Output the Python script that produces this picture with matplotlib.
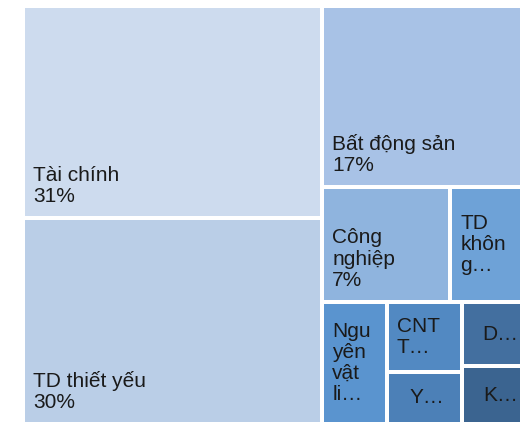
import matplotlib
matplotlib.use("Agg")
import matplotlib.pyplot as plt
from matplotlib.patches import Rectangle

plt.rcParams['font.family'] = ['Liberation Sans', 'DejaVu Sans']

# sector weights (%)
sectors = ["Tài chính", "TD thiết yếu", "Bất động sản", "Công nghiệp",
           "TD không thiết yếu", "Nguyên vật liệu", "CNTT", "Y tế", "D…", "K…"]
weights = [30.6, 29.6, 17.45, 7.06, 3.94, 3.78, 2.56, 1.9, 1.85, 1.65]
# text as it appears in each tile (truncated where the tile is small)
shown = ["Tài chính\n31%", "TD thiết yếu\n30%", "Bất động sản\n17%",
         "Công\nnghiệp\n7%", "TD\nkhôn\ng…", "Ngu\nyên\nvật\nli…",
         "CNT\nT…", "Y…", "D…", "K…"]
colors = ["#cddbee", "#baceE7", "#a8c2e6", "#8fb4de", "#6ea2d7",
          "#5a94cf", "#5289c2", "#4c80b7", "#436f9f", "#3b6490"]


def worst(row, side):
    s = sum(row)
    return max(max(side * side * r / (s * s), (s * s) / (side * side * r)) for r in row)


def squarify(sizes, x, y, w, h):
    if not sizes:
        return []
    if len(sizes) == 1:
        return [(x, y, w, h)]
    side = min(w, h)
    i = 1
    while i < len(sizes) and worst(sizes[:i + 1], side) <= worst(sizes[:i], side):
        i += 1
    row, rest = sizes[:i], sizes[i:]
    s = sum(row)
    out = []
    if w >= h:
        cw = s / h
        yy = y
        for r in row:
            rh = r / cw
            out.append((x, yy, cw, rh))
            yy += rh
        return out + squarify(rest, x + cw, y, w - cw, h)
    rh = s / w
    xx = x
    for r in row:
        rw = r / rh
        out.append((xx, y, rw, rh))
        xx += rw
    return out + squarify(rest, x, y + rh, w, h - rh)


W, H = 499.0, 418.0
total = sum(weights)
areas = [v / total * W * H for v in weights]
rects = squarify(areas, 0, 0, W, H)

fig = plt.figure(figsize=(5.27, 4.25), dpi=100)
ax = fig.add_axes([23 / 527, 1 - 424 / 425, 499 / 527, 418 / 425])
ax.set_xlim(0, W)
ax.set_ylim(H, 0)
ax.axis('off')

gap = 2.0
fs = 15
for (x, y, w, h), txt, c in zip(rects, shown, colors):
    ax.add_patch(Rectangle((x + gap, y + gap), w - 2 * gap, h - 2 * gap,
                           facecolor=c, edgecolor='none'))
    if '%' in txt:
        ax.text(x + gap + 8, y + h - gap - 10, txt, ha='left', va='bottom',
                fontsize=fs, color='#1a1a1a', linespacing=1.15)
    elif '\n' in txt:
        ax.text(x + gap + 8, y + h / 2, txt, ha='left', va='center',
                fontsize=fs, color='#1a1a1a', linespacing=1.15)
    elif w < 65:
        ax.text(x + w - gap - 2, y + h / 2, txt, ha='right', va='center',
                fontsize=fs, color='#1a1a1a')
    else:
        ax.text(x + w / 2 + 2, y + h / 2, txt, ha='center', va='center',
                fontsize=fs, color='#1a1a1a')

fig.savefig("out.png", dpi=100)
